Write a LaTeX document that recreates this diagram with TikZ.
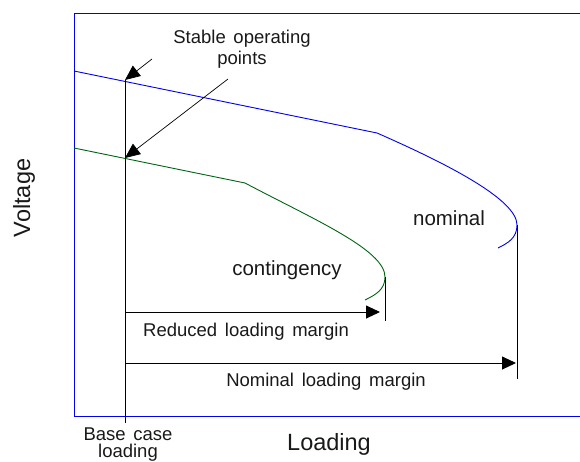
\documentclass[tikz,border=0pt]{standalone}
\usepackage{fontspec}
\setmainfont[WordSpace=1.5]{Liberation Sans}
\usetikzlibrary{arrows.meta}
\definecolor{curveblue}{RGB}{0,0,235}
\definecolor{curvegreen}{RGB}{0,100,20}
\definecolor{ink}{RGB}{25,25,25}
\tikzset{
  frame/.style={draw=curveblue, line width=1pt},
  pvblue/.style={draw=curveblue, line width=0.9pt},
  pvgreen/.style={draw=curvegreen, line width=0.9pt},
  guide/.style={draw=black, line width=0.9pt},
  pointer/.style={draw=black, line width=0.7pt, -{Triangle[length=15pt,width=13pt]}},
  margin/.style={draw=black, line width=0.9pt, -{Triangle[length=14pt,width=13pt]}},
  lbl/.style={inner sep=0pt, text=ink, font=\fontsize{18.5}{21}\selectfont},
  curvelbl/.style={inner sep=0pt, text=ink, font=\fontsize{20.5}{23}\selectfont},
  axislbl/.style={inner sep=0pt, text=ink, font=\fontsize{23.5}{26}\selectfont}
}
\begin{document}
\begin{tikzpicture}[x=1pt, y=-1pt]
\useasboundingbox (0,0) rectangle (580,461);

% axes frame
\draw[frame] (580,13) -- (74,13) -- (74,416) -- (580,416);

% key points of the two PV curves
\coordinate (bstart) at (74,71);
\coordinate (bop) at (125,80);
\coordinate (bkink) at (377,133);
\coordinate (bnose) at (517,225);
\coordinate (bend) at (498,248);
\coordinate (gstart) at (74,148);
\coordinate (gop) at (125,158);
\coordinate (gkink) at (245,183);
\coordinate (gnose) at (385,277);
\coordinate (gend) at (365,300);

% nominal curve
\draw[pvblue] (bstart) -- (bkink) .. controls (450,165) and (517,200) .. (bnose)
  .. controls (517,238) and (508,243) .. (bend);
% contingency curve
\draw[pvgreen] (gstart) -- (gkink) .. controls (315,220) and (385,250) .. (gnose)
  .. controls (385,290) and (375,295) .. (gend);

% base case loading and maximum loading guides
\coordinate (basefoot) at (125,423);
\coordinate (gfoot) at (385,321);
\coordinate (bfoot) at (517,379);
\draw[guide] (bop) -- (basefoot);
\draw[guide] (gnose) -- (gfoot);
\draw[guide] (bnose) -- (bfoot);

% loading margins
\coordinate (rstart) at (125,312);
\coordinate (rtip) at (380,312);
\coordinate (nstart) at (125,363);
\coordinate (ntip) at (516,363);
\draw[margin] (rstart) -- (rtip);
\draw[margin] (nstart) -- (ntip);
\node[lbl] (reduced) at (246,332) {Reduced loading margin};
\node[lbl] (nommargin) at (326,382) {Nominal loading margin};

% stable operating points
\node[lbl, align=center] (stable) at (242,49) {Stable operating\\points};
\coordinate (p1) at (152,59);
\coordinate (p2) at (228,79);
\draw[pointer] (p1) -- (bop);
\draw[pointer] (p2) -- (gop);

% curve labels
\node[curvelbl] (nominal) at (449,218) {nominal};
\node[curvelbl] (contingency) at (287,270) {contingency};

% axis labels
\node[axislbl, rotate=90] (voltage) at (24,198) {Voltage};
\node[axislbl] (loading) at (329,444) {Loading};
\node[lbl, align=center, font=\fontsize{18.5}{17}\selectfont] (basecase) at (128,445) {Base case\\loading};
\end{tikzpicture}
\end{document}
